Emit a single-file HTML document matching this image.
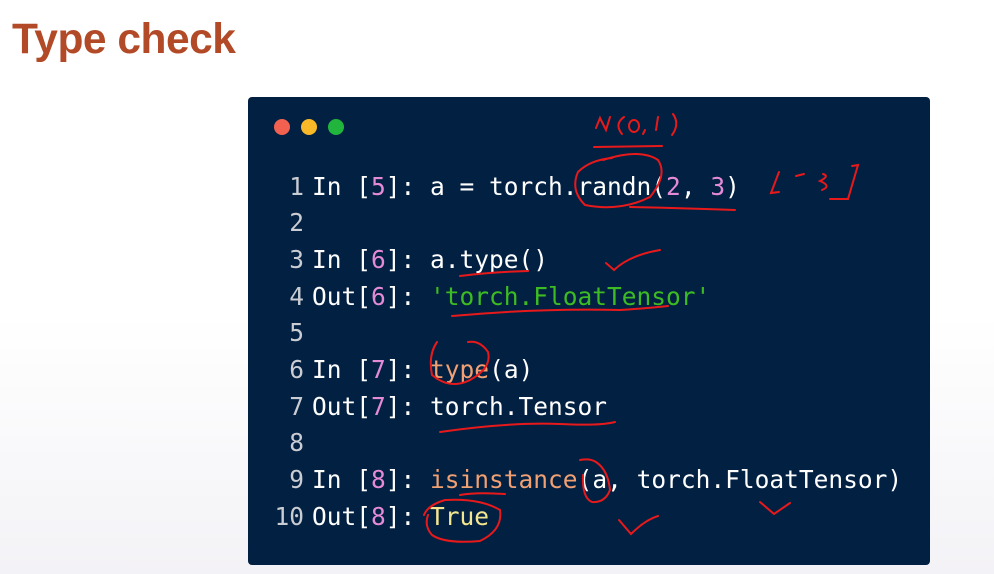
<!DOCTYPE html>
<html><head><meta charset="utf-8"><style>
html,body{margin:0;padding:0;}
body{width:994px;height:574px;position:relative;overflow:hidden;background:linear-gradient(#fff 0%,#fff 55%,#f3f2f6 100%);font-family:"Liberation Sans",sans-serif;}
.title{position:absolute;left:12px;top:16px;font-size:42.5px;font-weight:bold;color:#b24a28;letter-spacing:-0.5px;}
.panel{position:absolute;left:248px;top:97px;width:682px;height:468px;background:#022042;border-radius:4px;}
.dot{position:absolute;top:119px;width:16px;height:16px;border-radius:50%;}
.ln{position:absolute;left:250px;height:36px;line-height:36px;font-family:"DejaVu Sans Mono","Liberation Mono",monospace;font-size:24.5px;color:#fff;white-space:pre;}
.n{display:inline-block;width:54px;text-align:right;color:#c9ccd2;margin-right:8px;}
.p{color:#e58ad6}.g{color:#3dbb22}.o{color:#f0a072}.y{color:#f4e590}
</style></head><body>
<div class="title">Type check</div>
<div class="panel"></div>
<div class="dot" style="left:274px;background:#f26150"></div>
<div class="dot" style="left:301px;background:#f8b827"></div>
<div class="dot" style="left:328px;background:#21b53d"></div>
<div class="ln" style="top:169px"><span class="n">1</span>In [<span class="p">5</span>]: a = torch.randn(<span class="p">2</span>, <span class="p">3</span>)</div>
<div class="ln" style="top:205px"><span class="n">2</span></div>
<div class="ln" style="top:242px"><span class="n">3</span>In [<span class="p">6</span>]: a.type()</div>
<div class="ln" style="top:279px"><span class="n">4</span>Out[<span class="p">6</span>]: <span class="g">'torch.FloatTensor'</span></div>
<div class="ln" style="top:315px"><span class="n">5</span></div>
<div class="ln" style="top:352px"><span class="n">6</span>In [<span class="p">7</span>]: <span class="o">type</span>(a)</div>
<div class="ln" style="top:389px"><span class="n">7</span>Out[<span class="p">7</span>]: torch.Tensor</div>
<div class="ln" style="top:425px"><span class="n">8</span></div>
<div class="ln" style="top:462px"><span class="n">9</span>In [<span class="p">8</span>]: <span class="o">isinstance</span>(a, torch.FloatTensor)</div>
<div class="ln" style="top:499px"><span class="n">10</span>Out[<span class="p">8</span>]: <span class="y">True</span></div>
<svg width="994" height="574" style="position:absolute;left:0;top:0" fill="none" stroke="#e8191b" stroke-width="2" stroke-linecap="round">
<path d="M596 128 L600 118 L606 130 L610 117"/>
<path d="M624 117 Q614 124 622 134"/><ellipse cx="634" cy="126" rx="5" ry="6"/><path d="M645 130 L643 134"/><path d="M658 117 L656 130"/><path d="M673 114 Q680 124 672 135"/>
<path d="M594 147 L662 146"/>
<path d="M603 160 Q640 148 658 160 Q668 175 650 197 Q620 212 585 205 Q570 190 578 172 Q590 160 612 158"/>
<path d="M630 207 Q680 208 735 210"/>
<path d="M779 172 L771 193 L779 192 M796 176 L804 174 M823 174 Q830 176 820 181 Q832 186 822 190 M852 166 L858 165 L848 199 L830 199"/>
<path d="M606 263 L614 270 Q630 255 660 250"/>
<path d="M460 276 Q490 272 528 271"/>
<path d="M452 316 Q540 308 620 310 Q650 308 668 306"/>
<path d="M437 342 Q428 355 432 375 Q450 390 470 380 Q492 368 488 352 Q480 340 468 342"/>
<path d="M440 432 Q510 422 560 424 Q600 426 615 422"/>
<path d="M580 460 Q590 458 596 462 Q608 470 610 490 Q605 503 592 502 Q582 498 583 475"/>
<path d="M424 515 Q428 505 445 500 Q480 498 500 510 Q503 530 480 541 Q445 544 432 535 Q424 526 428 515"/>
<path d="M619 520 L631 534 Q645 520 658 516"/>
<path d="M760 502 L774 514 L790 503"/>
<path d="M460 495 Q475 492 505 494"/>
</svg>
</body></html>
